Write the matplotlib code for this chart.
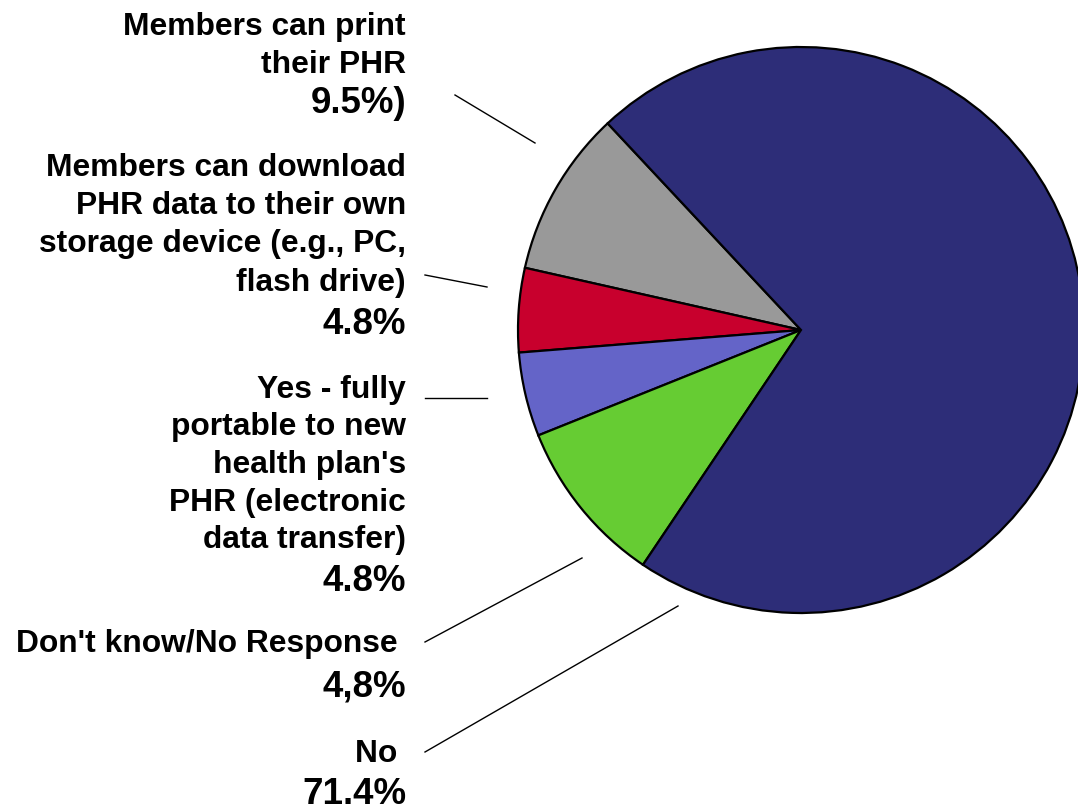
import matplotlib
matplotlib.use("Agg")
import matplotlib.pyplot as plt

# Data (counter-clockwise from the gray slice)
categories = [
    "Members can print their PHR",
    "Members can download PHR data to their own storage device (e.g., PC, flash drive)",
    "Yes - fully portable to new health plan's PHR (electronic data transfer)",
    "Don't know/No Response",
    "No",
]
values = [9.5, 4.8, 4.8, 9.5, 71.4]
colors = ["#999999", "#C8002D", "#6464C8", "#66CC33", "#2D2D78"]

label_lines = [
    ["Members can print", "their PHR"],
    ["Members can download", "PHR data to their own", "storage device (e.g., PC,", "flash drive)"],
    ["Yes - fully", "portable to new", "health plan's", "PHR (electronic", "data transfer)"],
    ["Don't know/No Response "],
    ["No "],
]
pct_labels = ["9.5%)", "4.8%", "4.8%", "4,8%", "71.4%"]

W, H = 1078, 809
fig = plt.figure(figsize=(W / 100, H / 100), dpi=100)
ax = fig.add_axes([0, 0, 1, 1])

def Y(y):
    return H - y

ax.pie(values, colors=colors, startangle=133.1, counterclock=True,
       center=(801, Y(330)), radius=283,
       wedgeprops=dict(edgecolor="black", linewidth=1.6))
ax.set_xlim(0, W)
ax.set_ylim(0, H)
ax.set_aspect("equal")
ax.axis("off")

font = "Liberation Sans"
# line baselines (pixels from top)
line_y = [
    [35, 73],
    [176, 214, 252, 291],
    [398, 435, 473, 511, 548],
    [652],
    [762],
]
pct_y = [113, 334, 591, 697, 804]
x_right = 406

for lines, ys, pct, py in zip(label_lines, line_y, pct_labels, pct_y):
    for t, y in zip(lines, ys):
        ax.text(x_right, Y(y), t, ha="right", va="baseline", fontsize=22.9,
                fontweight="bold", family=font, color="black")
    ax.text(x_right, Y(py), pct, ha="right", va="baseline", fontsize=26.5,
            fontweight="bold", family=font, color="black")

leaders = [
    ((455, 95), (535, 143)),
    ((425, 275), (487, 287)),
    ((425, 398), (487, 398)),
    ((425, 642), (582, 558)),
    ((425, 752), (678, 606)),
]
for (x0, y0), (x1, y1) in leaders:
    ax.plot([x0, x1], [Y(y0), Y(y1)], color="black", linewidth=1.0)

fig.savefig("out.png", dpi=100)
